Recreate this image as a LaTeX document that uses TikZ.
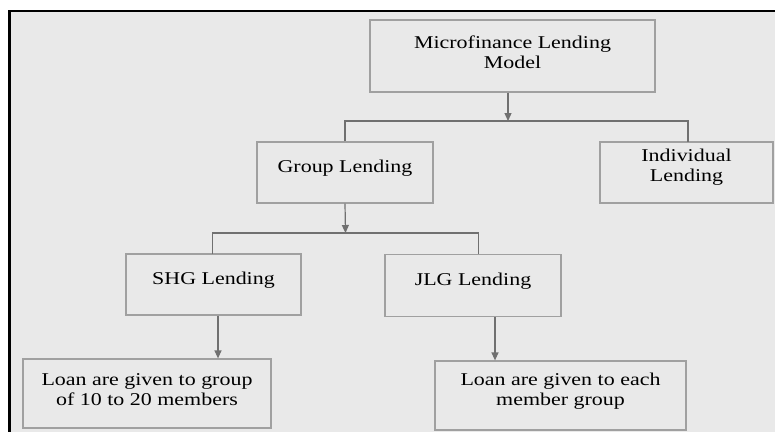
\documentclass[tikz,border=0pt]{standalone}
\usepackage{fontspec}
\setmainfont{Liberation Serif}[FakeStretch=1.22]
\usetikzlibrary{arrows.meta}
\definecolor{panel}{RGB}{233,233,233}
\definecolor{boxline}{RGB}{160,160,160}
\definecolor{wire}{RGB}{112,112,112}
\begin{document}
\begin{tikzpicture}[x=1pt,y=-1pt,
  box/.style={draw=boxline, line width=1.2pt, fill=panel, inner sep=0pt},
  lbl/.style={align=center, inner sep=0pt, font=\fontsize{18}{20}\selectfont},
  wirestyle/.style={draw=wire, line width=1.2pt},
  arr/.style={wirestyle, -{Triangle[length=8pt,width=7pt]}}]
\useasboundingbox (0,0) rectangle (775,431);
% panel with its left and top frame
\fill[white] (0,0) rectangle (775,431);
\fill[panel] (9.5,11) rectangle (780,440);
\draw[black, line width=2.5pt] (9.5,440) -- (9.5,11) -- (780,11);

% boxes
\node[box, minimum width=285pt, minimum height=72pt] (mf)  at (512.5,56) {};
\node[box, minimum width=176pt, minimum height=61pt] (grp) at (345,172.5) {};
\node[box, minimum width=173pt, minimum height=61pt] (ind) at (686.5,172.5) {};
\node[box, minimum width=175pt, minimum height=61pt] (shg) at (213.5,284.5) {};
\node[box, minimum width=176pt, minimum height=62pt] (jlg) at (473,285.5) {};
\node[box, minimum width=248pt, minimum height=69pt] (lg)  at (147,393.5) {};
\node[box, minimum width=251pt, minimum height=69pt] (lm)  at (560.5,395.5) {};

% labels
\node[lbl] at ([yshift=4pt]mf.center)  {Microfinance Lending\\Model};
\node[lbl] at ([yshift=4.5pt]grp.center) {Group Lending};
\node[lbl] at ([yshift=5pt]ind.center) {Individual\\Lending};
\node[lbl] at ([yshift=4.5pt]shg.center) {SHG Lending};
\node[lbl] at ([yshift=4.5pt]jlg.center) {JLG Lending};
\node[lbl] at ([yshift=3.5pt]lg.center)  {Loan are given to group\\of 10 to 20 members};
\node[lbl] at ([yshift=4pt]lm.center)  {Loan are given to each\\member group};

% junction points
\coordinate (j1) at (508,121);
\coordinate (j2) at (345.5,233);
\coordinate (s1) at (218,0);
\coordinate (s2) at (495,0);

% connectors
\draw[arr] (j1 |- mf.south) -- (j1);
\draw[wirestyle] (grp.north) -- (grp.north |- j1) -- (688,121) -- (688,142);
\draw[arr] (grp.south) -- (j2);
\draw[wirestyle] (212.5,254) -- (212.5,233) -- (478.5,233) -- (478.5,254);
\draw[arr] (s1 |- shg.south) -- (s1 |- lg.north);
\draw[arr] (s2 |- jlg.south) -- (s2 |- lm.north);
\end{tikzpicture}
\end{document}
